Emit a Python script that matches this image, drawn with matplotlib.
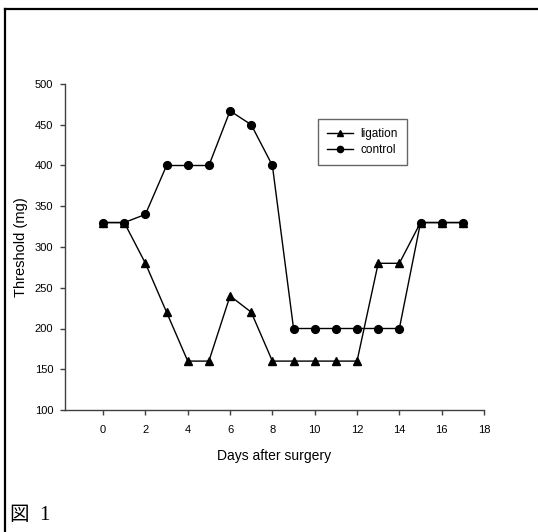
import matplotlib
matplotlib.use("Agg")
import matplotlib.pyplot as plt
from matplotlib.lines import Line2D

days = list(range(18))
ligation = [330, 330, 280, 220, 160, 160, 240, 220, 160, 160, 160, 160, 160, 280, 280, 330, 330, 330]
control = [330, 330, 340, 400, 400, 400, 467, 450, 400, 200, 200, 200, 200, 200, 200, 330, 330, 330]
xticks = list(range(0, 19, 2))
yticks = list(range(100, 501, 50))

plt.rcParams['font.family'] = ['Liberation Sans', 'DejaVu Sans']

fig = plt.figure(figsize=(5.38, 5.32), dpi=100)
ax = fig.add_axes([65/538, 1-410/532, (484-65)/538, (410-84)/532])

ax.plot(days, ligation, color='black', lw=1, marker='^', ms=6, label='ligation')
ax.plot(days, control, color='black', lw=1, marker='o', ms=5.6, label='control')

ax.set_xlim(-1.8, 18)
ax.set_ylim(100, 500)
ax.set_xticks(xticks)
ax.set_yticks(yticks)
for s in ['top', 'right']:
    ax.spines[s].set_visible(False)
for s in ['left', 'bottom']:
    ax.spines[s].set_color('#404040')
    ax.spines[s].set_linewidth(1)
ax.tick_params(direction='out', length=3.5, width=1, color='#404040', labelsize=8)
ax.tick_params(axis='x', pad=7.5)
ax.tick_params(axis='y', pad=5)
ax.set_xlabel('Days after surgery', fontsize=10, labelpad=10)
ax.set_ylabel('Threshold (mg)', fontsize=10.5, labelpad=5)

handles = [Line2D([], [], color='black', lw=1, marker='^', ms=4.5),
           Line2D([], [], color='black', lw=1, marker='o', ms=4.5)]
leg = ax.legend(handles, ['ligation', 'control'], loc='upper left',
                bbox_to_anchor=(0.604, 0.893), fontsize=8.5,
                frameon=True, fancybox=False, edgecolor='#404040',
                handlelength=2.25, borderpad=0.75, labelspacing=0.4, handletextpad=0.6,
                borderaxespad=0)
leg.get_frame().set_linewidth(1)

# figure border (top and left)
fig.add_artist(Line2D([5/538, 1], [1-9/532, 1-9/532], color='black', lw=1.6, transform=fig.transFigure))
fig.add_artist(Line2D([5/538, 5/538], [0, 1-9/532], color='black', lw=1.6, transform=fig.transFigure))

fig.text(9/538, 1-515/532, '図', fontsize=14, va='center', ha='left',
         family=['Noto Sans CJK JP', 'DejaVu Sans'])
fig.text(39/538, 1-515/532, '1', fontsize=15, va='center', ha='left',
         family=['Liberation Serif', 'DejaVu Serif'])

fig.savefig('out.png', dpi=100)
